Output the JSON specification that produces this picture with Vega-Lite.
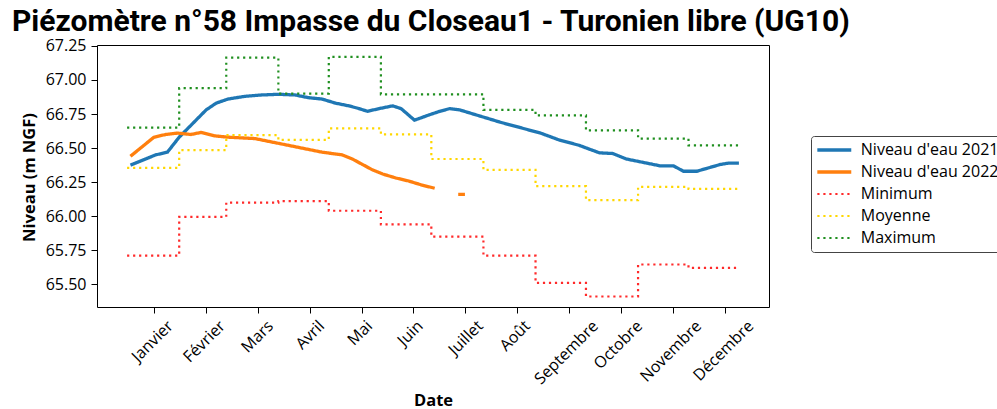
{
  "$schema": "https://vega.github.io/schema/vega-lite/v6.json",
  "width": 672,
  "height": 262,
  "autosize": {"type": "none"},
  "padding": {"left": 97, "top": 45, "right": 228, "bottom": 102},
  "background": "white",
  "title": {
    "text": "Piézomètre n°58 Impasse du Closeau1 - Turonien libre (UG10)",
    "font": "Roboto", "fontSize": 30, "fontWeight": "bold", "color": "black",
    "anchor": "start", "frame": "group", "dx": -85, "dy": 31, "offset": 8, "baseline": "alphabetic"
  },
  "config": {
    "view": {"stroke": "black", "strokeWidth": 1},
    "axis": {
      "grid": false, "domain": false,
      "labelFont": "Open Sans", "labelFontSize": 16, "labelColor": "black",
      "tickColor": "black", "tickSize": 6, "tickWidth": 1,
      "titleFont": "Open Sans", "titleFontSize": 16.5, "titleFontWeight": "bold", "titleColor": "black"
    },
    "legend": {
      "orient": "none", "legendX": 714, "legendY": 91,
      "symbolType": "M-3,0H3", "symbolSize": 128, "symbolOffset": 9.3,
      "labelFont": "Open Sans", "labelFontSize": 16, "labelColor": "black", "labelLimit": 400,
      "strokeColor": "#444444", "fillColor": "white", "cornerRadius": 3,
      "padding": 6, "rowPadding": 6, "labelOffset": 18.5
    }
  },
  "data": {"values": [
    {"serie": "Niveau d'eau 2021", "date": "2021-01-03", "niveau": 66.375},
    {"serie": "Niveau d'eau 2021", "date": "2021-01-18", "niveau": 66.45},
    {"serie": "Niveau d'eau 2021", "date": "2021-01-25", "niveau": 66.47},
    {"serie": "Niveau d'eau 2021", "date": "2021-02-01", "niveau": 66.58},
    {"serie": "Niveau d'eau 2021", "date": "2021-02-09", "niveau": 66.68},
    {"serie": "Niveau d'eau 2021", "date": "2021-02-17", "niveau": 66.78},
    {"serie": "Niveau d'eau 2021", "date": "2021-02-23", "niveau": 66.83},
    {"serie": "Niveau d'eau 2021", "date": "2021-03-02", "niveau": 66.86},
    {"serie": "Niveau d'eau 2021", "date": "2021-03-12", "niveau": 66.88},
    {"serie": "Niveau d'eau 2021", "date": "2021-03-22", "niveau": 66.89},
    {"serie": "Niveau d'eau 2021", "date": "2021-04-01", "niveau": 66.895},
    {"serie": "Niveau d'eau 2021", "date": "2021-04-11", "niveau": 66.89},
    {"serie": "Niveau d'eau 2021", "date": "2021-04-19", "niveau": 66.87},
    {"serie": "Niveau d'eau 2021", "date": "2021-04-27", "niveau": 66.86},
    {"serie": "Niveau d'eau 2021", "date": "2021-05-05", "niveau": 66.83},
    {"serie": "Niveau d'eau 2021", "date": "2021-05-13", "niveau": 66.81},
    {"serie": "Niveau d'eau 2021", "date": "2021-05-19", "niveau": 66.79},
    {"serie": "Niveau d'eau 2021", "date": "2021-05-24", "niveau": 66.77},
    {"serie": "Niveau d'eau 2021", "date": "2021-05-31", "niveau": 66.79},
    {"serie": "Niveau d'eau 2021", "date": "2021-06-08", "niveau": 66.81},
    {"serie": "Niveau d'eau 2021", "date": "2021-06-13", "niveau": 66.79},
    {"serie": "Niveau d'eau 2021", "date": "2021-06-21", "niveau": 66.705},
    {"serie": "Niveau d'eau 2021", "date": "2021-06-30", "niveau": 66.745},
    {"serie": "Niveau d'eau 2021", "date": "2021-07-06", "niveau": 66.77},
    {"serie": "Niveau d'eau 2021", "date": "2021-07-12", "niveau": 66.79},
    {"serie": "Niveau d'eau 2021", "date": "2021-07-18", "niveau": 66.78},
    {"serie": "Niveau d'eau 2021", "date": "2021-07-30", "niveau": 66.735},
    {"serie": "Niveau d'eau 2021", "date": "2021-08-11", "niveau": 66.69},
    {"serie": "Niveau d'eau 2021", "date": "2021-08-23", "niveau": 66.65},
    {"serie": "Niveau d'eau 2021", "date": "2021-09-04", "niveau": 66.61},
    {"serie": "Niveau d'eau 2021", "date": "2021-09-15", "niveau": 66.56},
    {"serie": "Niveau d'eau 2021", "date": "2021-09-27", "niveau": 66.52},
    {"serie": "Niveau d'eau 2021", "date": "2021-10-09", "niveau": 66.465},
    {"serie": "Niveau d'eau 2021", "date": "2021-10-17", "niveau": 66.46},
    {"serie": "Niveau d'eau 2021", "date": "2021-10-25", "niveau": 66.42},
    {"serie": "Niveau d'eau 2021", "date": "2021-11-06", "niveau": 66.39},
    {"serie": "Niveau d'eau 2021", "date": "2021-11-14", "niveau": 66.37},
    {"serie": "Niveau d'eau 2021", "date": "2021-11-22", "niveau": 66.37},
    {"serie": "Niveau d'eau 2021", "date": "2021-11-28", "niveau": 66.33},
    {"serie": "Niveau d'eau 2021", "date": "2021-12-06", "niveau": 66.33},
    {"serie": "Niveau d'eau 2021", "date": "2021-12-13", "niveau": 66.355},
    {"serie": "Niveau d'eau 2021", "date": "2021-12-20", "niveau": 66.38},
    {"serie": "Niveau d'eau 2021", "date": "2021-12-25", "niveau": 66.39},
    {"serie": "Niveau d'eau 2021", "date": "2021-12-31", "niveau": 66.39},

    {"serie": "Niveau d'eau 2022", "date": "2021-01-03", "niveau": 66.44},
    {"serie": "Niveau d'eau 2022", "date": "2021-01-10", "niveau": 66.51},
    {"serie": "Niveau d'eau 2022", "date": "2021-01-17", "niveau": 66.58},
    {"serie": "Niveau d'eau 2022", "date": "2021-01-24", "niveau": 66.60},
    {"serie": "Niveau d'eau 2022", "date": "2021-01-31", "niveau": 66.61},
    {"serie": "Niveau d'eau 2022", "date": "2021-02-08", "niveau": 66.60},
    {"serie": "Niveau d'eau 2022", "date": "2021-02-14", "niveau": 66.615},
    {"serie": "Niveau d'eau 2022", "date": "2021-02-22", "niveau": 66.59},
    {"serie": "Niveau d'eau 2022", "date": "2021-03-02", "niveau": 66.58},
    {"serie": "Niveau d'eau 2022", "date": "2021-03-10", "niveau": 66.575},
    {"serie": "Niveau d'eau 2022", "date": "2021-03-18", "niveau": 66.57},
    {"serie": "Niveau d'eau 2022", "date": "2021-03-26", "niveau": 66.55},
    {"serie": "Niveau d'eau 2022", "date": "2021-04-03", "niveau": 66.53},
    {"serie": "Niveau d'eau 2022", "date": "2021-04-11", "niveau": 66.51},
    {"serie": "Niveau d'eau 2022", "date": "2021-04-19", "niveau": 66.49},
    {"serie": "Niveau d'eau 2022", "date": "2021-04-27", "niveau": 66.47},
    {"serie": "Niveau d'eau 2022", "date": "2021-05-03", "niveau": 66.46},
    {"serie": "Niveau d'eau 2022", "date": "2021-05-09", "niveau": 66.45},
    {"serie": "Niveau d'eau 2022", "date": "2021-05-15", "niveau": 66.42},
    {"serie": "Niveau d'eau 2022", "date": "2021-05-21", "niveau": 66.38},
    {"serie": "Niveau d'eau 2022", "date": "2021-05-27", "niveau": 66.34},
    {"serie": "Niveau d'eau 2022", "date": "2021-06-02", "niveau": 66.31},
    {"serie": "Niveau d'eau 2022", "date": "2021-06-10", "niveau": 66.28},
    {"serie": "Niveau d'eau 2022", "date": "2021-06-17", "niveau": 66.26},
    {"serie": "Niveau d'eau 2022", "date": "2021-06-25", "niveau": 66.23},
    {"serie": "Niveau d'eau 2022", "date": "2021-07-03", "niveau": 66.205},
    {"serie": "Niveau d'eau 2022", "date": "2021-07-10", "niveau": null},
    {"serie": "Niveau d'eau 2022", "date": "2021-07-17", "niveau": 66.16},
    {"serie": "Niveau d'eau 2022", "date": "2021-07-21", "niveau": 66.16},

    {"serie": "Minimum", "date": "2021-01-01", "niveau": 65.71},
    {"serie": "Minimum", "date": "2021-02-01", "niveau": 65.995},
    {"serie": "Minimum", "date": "2021-03-01", "niveau": 66.10},
    {"serie": "Minimum", "date": "2021-04-01", "niveau": 66.11},
    {"serie": "Minimum", "date": "2021-05-01", "niveau": 66.04},
    {"serie": "Minimum", "date": "2021-06-01", "niveau": 65.94},
    {"serie": "Minimum", "date": "2021-07-01", "niveau": 65.85},
    {"serie": "Minimum", "date": "2021-08-01", "niveau": 65.71},
    {"serie": "Minimum", "date": "2021-09-01", "niveau": 65.51},
    {"serie": "Minimum", "date": "2021-10-01", "niveau": 65.41},
    {"serie": "Minimum", "date": "2021-11-01", "niveau": 65.645},
    {"serie": "Minimum", "date": "2021-12-01", "niveau": 65.62},
    {"serie": "Minimum", "date": "2021-12-31", "niveau": 65.62},

    {"serie": "Moyenne", "date": "2021-01-01", "niveau": 66.355},
    {"serie": "Moyenne", "date": "2021-02-01", "niveau": 66.485},
    {"serie": "Moyenne", "date": "2021-03-01", "niveau": 66.595},
    {"serie": "Moyenne", "date": "2021-04-01", "niveau": 66.56},
    {"serie": "Moyenne", "date": "2021-05-01", "niveau": 66.645},
    {"serie": "Moyenne", "date": "2021-06-01", "niveau": 66.60},
    {"serie": "Moyenne", "date": "2021-07-01", "niveau": 66.42},
    {"serie": "Moyenne", "date": "2021-08-01", "niveau": 66.34},
    {"serie": "Moyenne", "date": "2021-09-01", "niveau": 66.22},
    {"serie": "Moyenne", "date": "2021-10-01", "niveau": 66.118},
    {"serie": "Moyenne", "date": "2021-11-01", "niveau": 66.215},
    {"serie": "Moyenne", "date": "2021-12-01", "niveau": 66.20},
    {"serie": "Moyenne", "date": "2021-12-31", "niveau": 66.20},

    {"serie": "Maximum", "date": "2021-01-01", "niveau": 66.65},
    {"serie": "Maximum", "date": "2021-02-01", "niveau": 66.94},
    {"serie": "Maximum", "date": "2021-03-01", "niveau": 67.164},
    {"serie": "Maximum", "date": "2021-04-01", "niveau": 66.90},
    {"serie": "Maximum", "date": "2021-05-01", "niveau": 67.17},
    {"serie": "Maximum", "date": "2021-06-01", "niveau": 66.895},
    {"serie": "Maximum", "date": "2021-07-01", "niveau": 66.895},
    {"serie": "Maximum", "date": "2021-08-01", "niveau": 66.78},
    {"serie": "Maximum", "date": "2021-09-01", "niveau": 66.74},
    {"serie": "Maximum", "date": "2021-10-01", "niveau": 66.63},
    {"serie": "Maximum", "date": "2021-11-01", "niveau": 66.57},
    {"serie": "Maximum", "date": "2021-12-01", "niveau": 66.52},
    {"serie": "Maximum", "date": "2021-12-31", "niveau": 66.52}
  ]},
  "encoding": {
    "x": {
      "field": "date", "type": "temporal", "title": "Date",
      "scale": {"type": "utc", "domain": [
        {"year": 2020, "month": 12, "date": 14, "hours": 2, "minutes": 24, "utc": true},
        {"year": 2022, "month": 1, "date": 17, "hours": 21, "minutes": 36, "utc": true}
      ]},
      "axis": {
        "values": [
          {"year": 2021, "month": 1, "date": 17, "utc": true},
          {"year": 2021, "month": 2, "date": 17, "utc": true},
          {"year": 2021, "month": 3, "date": 20, "utc": true},
          {"year": 2021, "month": 4, "date": 20, "utc": true},
          {"year": 2021, "month": 5, "date": 21, "utc": true},
          {"year": 2021, "month": 6, "date": 20, "utc": true},
          {"year": 2021, "month": 7, "date": 21, "utc": true},
          {"year": 2021, "month": 8, "date": 21, "utc": true},
          {"year": 2021, "month": 9, "date": 21, "utc": true},
          {"year": 2021, "month": 10, "date": 22, "utc": true},
          {"year": 2021, "month": 11, "date": 22, "utc": true},
          {"year": 2021, "month": 12, "date": 23, "utc": true}
        ],
        "labelExpr": "['Janvier','Février','Mars','Avril','Mai','Juin','Juillet','Août','Septembre','Octobre','Novembre','Décembre'][utcmonth(datum.value)]",
        "labelAngle": -45, "labelAlign": "right", "labelBaseline": "middle",
        "labelPadding": 10, "labelOverlap": false, "labelFlush": false,
        "labelOffset": {
          "condition": [
            {"test": "utcmonth(datum.value) == 0", "value": 16},
            {"test": "utcmonth(datum.value) == 1", "value": 16},
            {"test": "utcmonth(datum.value) == 2", "value": 12},
            {"test": "utcmonth(datum.value) == 3", "value": 11},
            {"test": "utcmonth(datum.value) == 4", "value": 7},
            {"test": "utcmonth(datum.value) == 5", "value": 7},
            {"test": "utcmonth(datum.value) == 6", "value": 15},
            {"test": "utcmonth(datum.value) == 7", "value": 10},
            {"test": "utcmonth(datum.value) == 8", "value": 26},
            {"test": "utcmonth(datum.value) == 9", "value": 18}
          ],
          "value": 25
        },
        "titleX": 336, "titleY": 98, "titleAlign": "center", "titleBaseline": "alphabetic"
      }
    },
    "y": {
      "field": "niveau", "type": "quantitative", "title": "Niveau (m NGF)",
      "scale": {"domain": [65.333, 67.257], "nice": false, "zero": false},
      "axis": {
        "values": [65.5, 65.75, 66, 66.25, 66.5, 66.75, 67, 67.25],
        "format": ".2f", "labelPadding": 5,
        "titleX": -63, "titleY": 132, "titleAngle": -90, "titleAlign": "center", "titleBaseline": "alphabetic"
      }
    },
    "color": {
      "field": "serie", "type": "nominal",
      "scale": {
        "domain": ["Niveau d'eau 2021", "Niveau d'eau 2022", "Minimum", "Moyenne", "Maximum"],
        "range": ["#1f77b4", "#ff7f0e", "#ff2a2a", "#ffd700", "#1f8f1f"]
      },
      "legend": {"title": null}
    },
    "strokeDash": {
      "field": "serie", "type": "nominal",
      "scale": {
        "domain": ["Niveau d'eau 2021", "Niveau d'eau 2022", "Minimum", "Moyenne", "Maximum"],
        "range": [[1, 0], [1, 0], [2.2, 3.8], [2.2, 3.8], [2.2, 3.8]]
      },
      "legend": {"title": null}
    },
    "strokeWidth": {
      "field": "serie", "type": "nominal",
      "scale": {
        "type": "ordinal",
        "domain": ["Niveau d'eau 2021", "Niveau d'eau 2022", "Minimum", "Moyenne", "Maximum"],
        "range": [3.3, 3.3, 2.2, 2.2, 2.2]
      },
      "legend": {"title": null}
    }
  },
  "layer": [
    {
      "transform": [{"filter": {"field": "serie", "oneOf": ["Niveau d'eau 2021", "Niveau d'eau 2022"]}}],
      "mark": {"type": "line", "interpolate": "linear", "invalid": "break-paths-show-domains"}
    },
    {
      "transform": [{"filter": {"field": "serie", "oneOf": ["Minimum", "Moyenne", "Maximum"]}}],
      "mark": {"type": "line", "interpolate": "step-after"}
    }
  ]
}
